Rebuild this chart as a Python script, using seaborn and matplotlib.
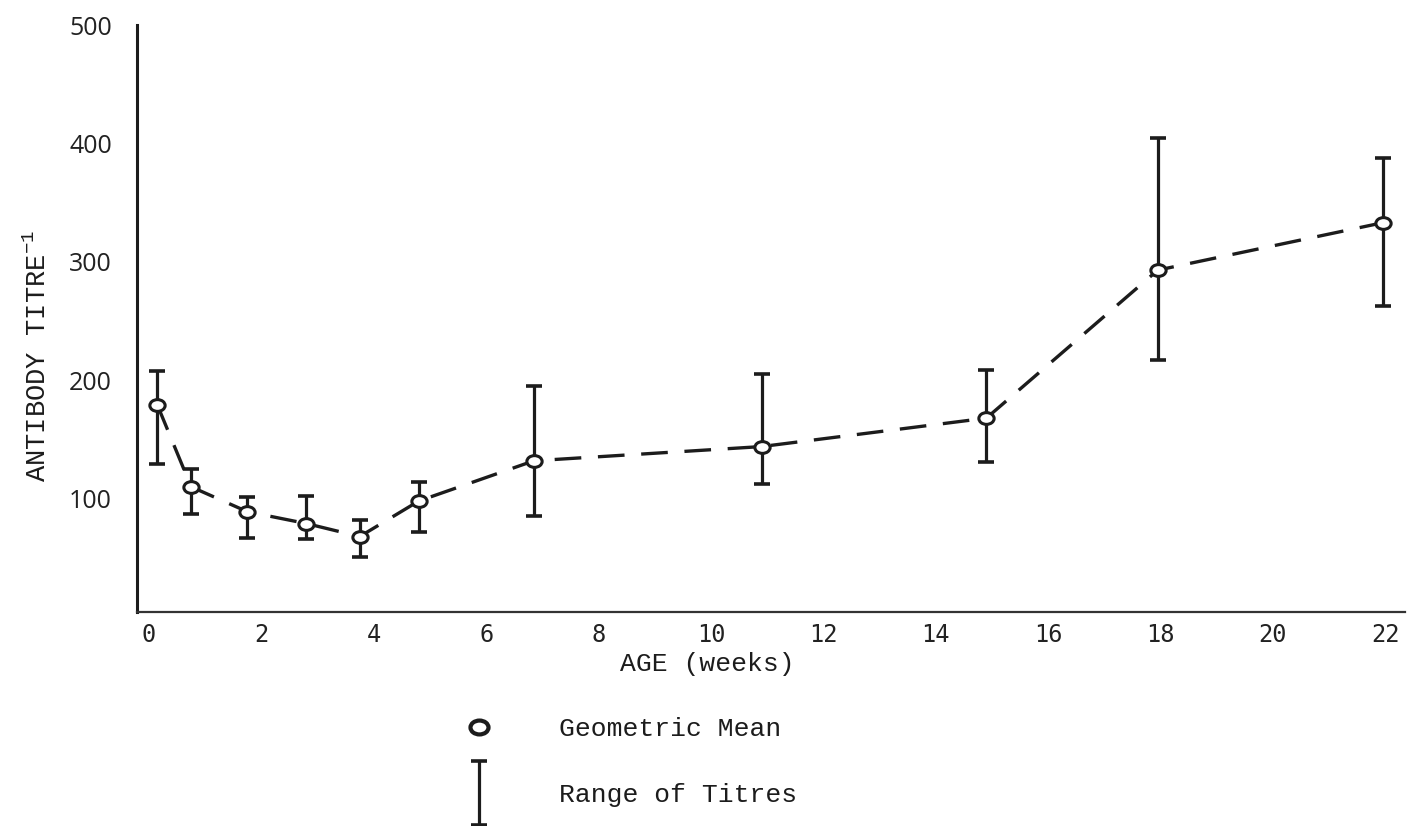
import numpy as np
import pandas as pd
import matplotlib
matplotlib.use("Agg")
import matplotlib.pyplot as plt
import seaborn as sns
from matplotlib.path import Path
from matplotlib.transforms import Affine2D
from matplotlib.lines import Line2D
from matplotlib.legend_handler import HandlerErrorbar

# ---- data ----
age_weeks = [0.15, 0.75, 1.75, 2.8, 3.75, 4.8, 6.85, 10.9, 14.9, 17.95, 21.95]
geo_mean = [179, 110, 89, 79, 68, 98, 132, 144, 168, 293, 333]
range_high = [208, 125, 101, 102, 82, 114, 195, 205, 209, 405, 388]
range_low = [129, 87, 67, 66, 51, 72, 85, 112, 131, 217, 263]

x_ticks = [0, 2, 4, 6, 8, 10, 12, 14, 16, 18, 20, 22]
y_ticks = [100, 200, 300, 400, 500]

df = pd.DataFrame({"age": age_weeks, "mean": geo_mean,
                   "hi": range_high, "lo": range_low})

sns.set_theme(style="white")
plt.rcParams["font.family"] = ["Liberation Mono", "DejaVu Sans Mono"]
plt.rcParams["mathtext.fontset"] = "custom"
plt.rcParams["mathtext.rm"] = "Liberation Mono"
plt.rcParams["mathtext.it"] = "Liberation Mono"

INK = "#1c1c1c"

fig = plt.figure(figsize=(14.09, 8.26), dpi=100)
ax = fig.add_axes([0.0972, 0.2591, 0.9000, 0.7106])

# ellipse marker
ell = Path.unit_circle().transformed(Affine2D().scale(1.3, 1.0))

yerr = np.vstack([df["mean"] - df["lo"], df["hi"] - df["mean"]])
eb = ax.errorbar(df["age"], df["mean"], yerr=yerr, fmt="none",
                 ecolor=INK, elinewidth=2.3, capsize=6.0, capthick=2.6,
                 zorder=2)

sns.lineplot(data=df, x="age", y="mean", ax=ax, color=INK,
             linewidth=2.4, linestyle=(0, (8, 5)),
             marker=ell, markersize=11, markerfacecolor="white",
             markeredgecolor=INK, markeredgewidth=2.2, zorder=3,
             sort=False, errorbar=None)

ax.set_xlim(-0.214, 22.35)
ax.set_ylim(4.3, 498.4)
ax.set_xticks(x_ticks)
ax.set_xticklabels([str(t) for t in x_ticks], family="DejaVu Sans Mono",
                   fontsize=17, color="#222222")
ax.set_yticks(y_ticks)
ax.set_yticklabels([str(t) for t in y_ticks], family="Open Sans",
                   fontsize=18, color="#222222")
ax.tick_params(axis="x", length=0, pad=8)
ax.tick_params(axis="y", length=0, pad=18)

for s in ["top", "right"]:
    ax.spines[s].set_visible(False)
ax.spines["left"].set_linewidth(2.2)
ax.spines["left"].set_color(INK)
ax.spines["bottom"].set_linewidth(1.6)
ax.spines["bottom"].set_color("#333333")

ax.set_xlabel("AGE (weeks)", fontsize=19, color=INK)
ax.xaxis.set_label_coords(0.450, -0.068)
ax.set_ylabel("ANTIBODY TITRE$^{-1}$", fontsize=19.5, color=INK)
ax.yaxis.set_label_coords(-0.067, 0.437)

# legend
mean_proxy = Line2D([], [], linestyle="none", marker=ell, markersize=13,
                    markerfacecolor="white", markeredgecolor=INK,
                    markeredgewidth=3.0)
leg = fig.legend([mean_proxy, eb], ["Geometric Mean", "Range of Titres"],
                 handler_map={eb: HandlerErrorbar(yerr_size=1.2)},
                 loc="upper left", bbox_to_anchor=(460 / 1409, 1 - 717 / 826),
                 frameon=False, borderpad=0, borderaxespad=0,
                 handlelength=1.45, handletextpad=2.3, labelspacing=1.6,
                 fontsize=19, numpoints=1)
for t in leg.get_texts():
    t.set_color(INK)

fig.savefig("out.png", dpi=100, facecolor="white")
